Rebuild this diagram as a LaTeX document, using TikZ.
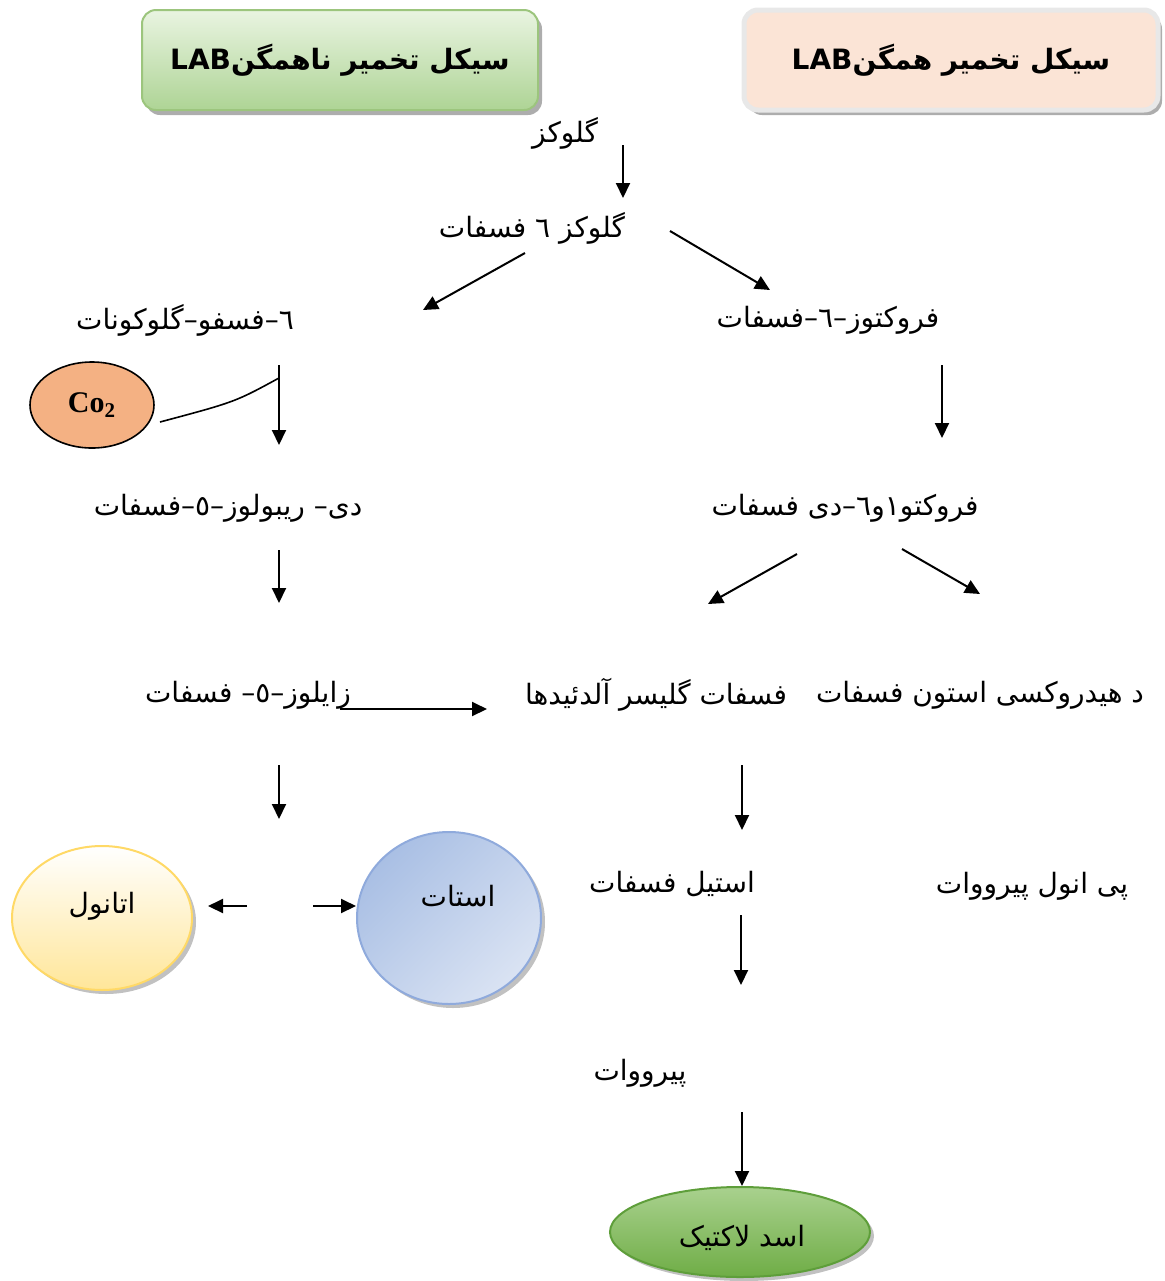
\documentclass[tikz,border=0pt]{standalone}
\usepackage{fontspec}
\usetikzlibrary{arrows.meta,shapes.geometric,shadows}
\TeXXeTstate=1
\newfontfamily\arabicfont[Script=Arabic]{DejaVu Sans}
\newfontfamily\timesfont{Liberation Serif}
\newcommand{\faText}[1]{\beginR #1\endR}
\definecolor{hetlight}{HTML}{E9F4E1}
\definecolor{hetdark}{HTML}{AED495}
\definecolor{hetline}{HTML}{9CC57D}
\definecolor{homfill}{HTML}{FBE4D6}
\definecolor{homline}{HTML}{E8E8E8}
\definecolor{cotwo}{HTML}{F4B183}
\definecolor{ethtop}{HTML}{FFFFFF}
\definecolor{ethbot}{HTML}{FFE699}
\definecolor{ethline}{HTML}{FFD966}
\definecolor{acelight}{HTML}{DAE3F3}
\definecolor{acedark}{HTML}{A9BFE4}
\definecolor{aceline}{HTML}{8FAADC}
\definecolor{lactop}{HTML}{A9D18E}
\definecolor{lacbot}{HTML}{6FAD46}
\definecolor{lacline}{HTML}{5E9E3A}
\tikzset{
  txt/.style={font=\arabicfont\fontsize{14}{16}\selectfont, inner sep=1pt},
  hdr/.style={rounded corners=7pt, minimum width=198pt, minimum height=50pt, font=\arabicfont\bfseries\fontsize{14}{16}\selectfont,
    drop shadow={shadow xshift=2pt, shadow yshift=-2.5pt, fill=gray!80, opacity=0.8}},
  blob/.style={ellipse, inner sep=0pt, font=\arabicfont\fontsize{14}{16}\selectfont,
    drop shadow={shadow xshift=2pt, shadow yshift=-2pt, fill=gray!70, opacity=0.7}},
  arr/.style={line width=1pt, -{Triangle[length=7.5pt,width=7pt]}}
}
\begin{document}
\begin{tikzpicture}[x=0.5pt, y=-0.5pt]
\useasboundingbox (0,0) rectangle (1165,1281);
\node[hdr, draw=hetline, line width=1pt, top color=hetlight, bottom color=hetdark] (het) at (340,60) {\faText{سیکل تخمیر ناهمگن\beginL LAB\endL}};
\node[hdr, draw=homline, line width=2.5pt, fill=homfill, minimum width=207pt] (hom) at (951,60) {\faText{سیکل تخمیر همگن\beginL LAB\endL}};
\node[txt] (glc) at (565,133) {\faText{گلوکز}};
\node[txt] (g6p) at (532,228) {\faText{گلوکز ٦ فسفات}};
\node[txt] (pglu) at (185,320) {\faText{٦–فسفو–گلوکونات}};
\node[txt] (f6p) at (828,320) {\faText{فروکتوز–٦–فسفات}};
\node[draw, ellipse, line width=0.8pt, fill=cotwo, minimum width=62pt, minimum height=43pt, font=\timesfont\bfseries\fontsize{15}{17}\selectfont] (co2) at (92,405) {Co\textsubscript{2}};
\node[txt] (ru5p) at (228,508) {\faText{دی– ریبولوز–٥–فسفات}};
\node[txt] (fbp) at (845,508) {\faText{فروکتو١و٦–دی فسفات}};
\node[txt] (xy5p) at (248,695) {\faText{زایلوز–٥– فسفات}};
\node[txt] (gap) at (656,695) {\faText{فسفات گلیسر آلدئیدها}};
\node[txt] (dhap) at (980,695) {\faText{د هیدروکسی استون فسفات}};
\node[blob, draw=ethline, line width=1pt, top color=ethtop, bottom color=ethbot, minimum width=90pt, minimum height=72pt] (eth) at (102,918) {};
\node[txt] (ethtxt) at (102,906) {\faText{اتانول}};
\node[blob, draw=aceline, line width=1pt, left color=acedark, right color=acelight, shading angle=45, minimum width=92pt, minimum height=86pt] (ace) at (449,918) {};
\node[txt] (acetxt) at (458,896) {\faText{استات}};
\node[txt] (acp) at (672,884) {\faText{استیل فسفات}};
\node[txt] (pep) at (1032,886) {\faText{پی انول پیرووات}};
\node[txt] (pyr) at (640,1073) {\faText{پیرووات}};
\node[blob, draw=lacline, line width=1pt, top color=lactop, bottom color=lacbot, minimum width=130pt, minimum height=45pt] (lac) at (740,1232) {};
\node[txt] (lactxt) at (742,1238) {\faText{اسد لاکتیک}};
\coordinate (glcOut) at (623,145);
\coordinate (g6pIn) at (623,198);
\coordinate (g6pL) at (525,253);
\coordinate (pgluIn) at (423,310);
\coordinate (g6pR) at (670,231);
\coordinate (f6pIn) at (770,290);
\coordinate (pgluOut) at (279,365);
\coordinate (ru5pIn) at (279,445);
\coordinate (cojoin) at (279,378);
\coordinate (coOut) at (160,422);
\coordinate (f6pOut) at (942,365);
\coordinate (fbpIn) at (942,438);
\coordinate (ru5pOut) at (279,550);
\coordinate (xy5pIn) at (279,603);
\coordinate (fbpL) at (797,554);
\coordinate (gapIn) at (708,604);
\coordinate (fbpR) at (902,549);
\coordinate (dhapIn) at (980,594);
\coordinate (xy5pR) at (340,709);
\coordinate (gapL) at (487,709);
\coordinate (xy5pOut) at (279,765);
\coordinate (splitIn) at (279,819);
\coordinate (gapOut) at (742,765);
\coordinate (acpIn) at (742,830);
\coordinate (ethR) at (247,906);
\coordinate (ethIn) at (208,906);
\coordinate (aceL) at (313,906);
\coordinate (acpOut) at (741,915);
\coordinate (pyrIn) at (741,985);
\coordinate (pyrOut) at (742,1112);
\draw[arr] (glcOut) -- (g6pIn);
\draw[arr] (g6pL) -- (pgluIn);
\draw[arr] (g6pR) -- (f6pIn);
\draw[arr] (pgluOut) -- (ru5pIn);
\draw[line width=0.8pt] (coOut) .. controls (235,402) .. (cojoin);
\draw[arr] (f6pOut) -- (fbpIn);
\draw[arr] (ru5pOut) -- (xy5pIn);
\draw[arr] (fbpL) -- (gapIn);
\draw[arr] (fbpR) -- (dhapIn);
\draw[arr] (xy5pR) -- (gapL);
\draw[arr] (xy5pOut) -- (splitIn);
\draw[arr] (gapOut) -- (acpIn);
\draw[arr] (ethR) -- (ethIn);
\draw[arr] (aceL) -- (aceL -| ace.west);
\draw[arr] (acpOut) -- (pyrIn);
\draw[arr] (pyrOut) -- (pyrOut |- lac.north);
\end{tikzpicture}
\end{document}
